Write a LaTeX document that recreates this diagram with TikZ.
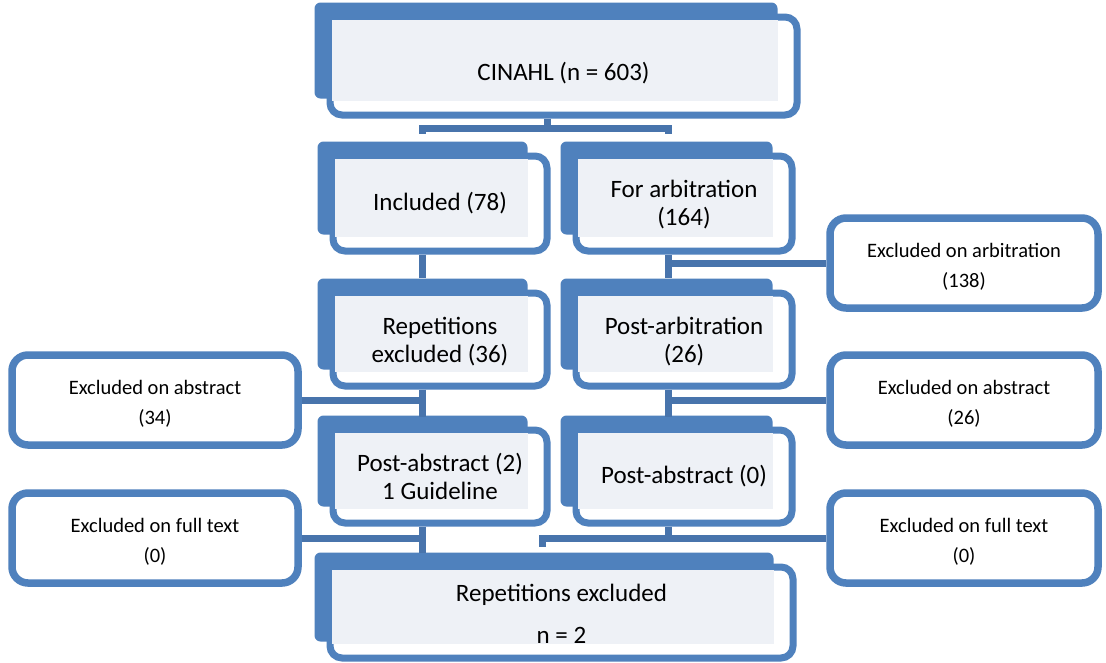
\documentclass[tikz,border=0pt]{standalone}
\usepackage{fontspec}
\setmainfont{Carlito}
\usetikzlibrary{calc,fit}
\definecolor{bblue}{HTML}{4F81BD}
\definecolor{cblue}{HTML}{4874AC}
\definecolor{gfill}{HTML}{EEF1F6}
\tikzset{
  whitebox/.style={draw=bblue, line width=7pt, fill=white, rounded corners=12pt, inner sep=0pt},
  sidebox/.style={draw=bblue, line width=7.5pt, fill=white, rounded corners=16pt, inner sep=0pt},
  sidetext/.style={align=center, text=black, font=\fontsize{20.5}{30}\selectfont},
  tabfill/.style={fill=bblue, rounded corners=6pt},
  graybg/.style={fill=gfill},
  maintext/.style={align=center, text=black, font=\fontsize{25}{28}\selectfont},
  link/.style={draw=cblue, line width=7pt},
}
% name, x1, y1, x2, y2, text, text y offset
\newcommand\mytabbox[7]{%
  \node[whitebox, fit={(#2,#3) (#4,#5)}] (#1) {};
  \fill[tabfill] ($(#1.north west)+(-12,-11)$) rectangle ($(#1.south east)+(-23,-20)$);
  \fill[graybg] ($(#1.north west)+(5,6)$) rectangle ($(#1.south east)+(-23,-18)$);
  \node[maintext] (#1t) at ($(#1.center)+(0,#7)$) {#6};
}
% name, x1, y1, x2, y2, text
\newcommand\mysidebox[6]{%
  \node[sidebox, fit={(#2,#3) (#4,#5)}] (#1) {};
  \node[sidetext] (#1t) at ($(#1.center)+(0,4)$) {#6};
}
\begin{document}
\begin{tikzpicture}[x=1pt,y=-1pt]
\useasboundingbox (0,0) rectangle (1106,662);
\fill[white] (0,0) rectangle (1106,662);

\coordinate (L) at (422,0);
\coordinate (R) at (668,0);
\coordinate (T) at (547,0);
\coordinate (S) at (542,0);

\mytabbox{cin}{330}{17}{797}{115}{CINAHL (n = 603)}{7}
\mytabbox{inc}{333}{156}{547}{251}{Included (78)}{0}
\mytabbox{arb}{576}{156}{792}{251}{For arbitration\\(164)}{1}
\mytabbox{rep}{333}{293}{547}{386}{Repetitions\\excluded (36)}{2}
\mytabbox{parb}{576}{293}{792}{386}{Post-arbitration\\(26)}{2}
\mytabbox{pa2}{333}{430}{547}{523}{Post-abstract (2)\\1 Guideline}{0}
\mytabbox{pa0}{576}{430}{792}{523}{Post-abstract (0)}{0}
\mytabbox{fin}{330}{567}{793}{658}{Repetitions excluded\\[14pt]n = 2}{1}

\mysidebox{exabL}{12}{355}{298}{445}{Excluded on abstract\\(34)}
\mysidebox{exftL}{12}{493}{298}{583}{Excluded on full text\\(0)}
\mysidebox{exarR}{830}{218}{1098}{308}{Excluded on arbitration\\(138)}
\mysidebox{exabR}{830}{355}{1098}{445}{Excluded on abstract\\(26)}
\mysidebox{exftR}{830}{493}{1098}{583}{Excluded on full text\\(0)}

\coordinate (j0) at (T |- 0,128);
\draw[link] (cin.south -| T) -- (j0);
\draw[link] ($(inc.north -| L)+(0,-19)$) -- (L |- j0) -- (R |- j0) -- ($(arb.north -| R)+(0,-19)$);

\draw[link] (inc.south -| L) -- ($(inc.south -| L)+(0,23)$);
\draw[link] (arb.south -| R) -- ($(arb.south -| R)+(0,23)$);
\draw[link] (exarR.west) -- (exarR.west -| R);

\draw[link] (rep.south -| L) -- ($(rep.south -| L)+(0,27)$);
\draw[link] (exabL.east) -- (exabL.east -| L);
\draw[link] (parb.south -| R) -- ($(parb.south -| R)+(0,27)$);
\draw[link] (exabR.west) -- (exabR.west -| R);

\draw[link] (pa2.south -| L) -- ($(fin.north -| L)+(0,-11)$);
\draw[link] (exftL.east) -- (exftL.east -| L);
\draw[link] (pa0.south -| R) -- (exftR.west -| R);
\draw[link] (exftR.west) -- (exftR.west -| S) -- ($(exftR.west -| S)+(0,9)$);
\end{tikzpicture}
\end{document}
